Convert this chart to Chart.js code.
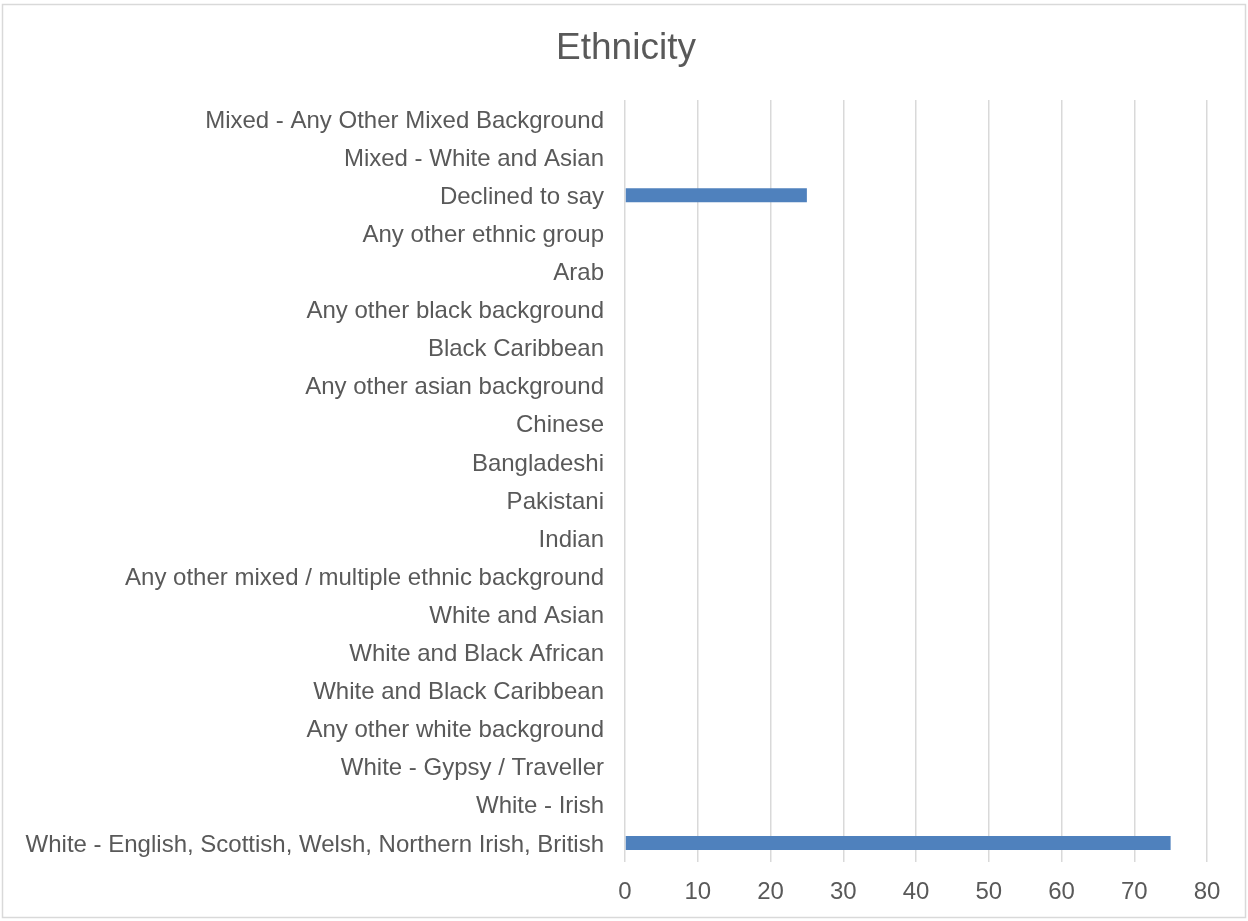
<!DOCTYPE html>
<html>
<head>
<meta charset="utf-8">
<title>Ethnicity</title>
<script src="https://cdn.jsdelivr.net/npm/chart.js@4/dist/chart.umd.min.js"></script>
<style>
  html, body { margin: 0; padding: 0; background: #ffffff; }
  #wrap { position: relative; width: 1248px; height: 921px; }
</style>
</head>
<body>
<div id="wrap"><canvas id="chart" width="1248" height="921"></canvas></div>
<script>
// Categories listed from the bottom of the axis upwards
const categories = [
  "White - English, Scottish, Welsh, Northern Irish, British",
  "White - Irish",
  "White - Gypsy / Traveller",
  "Any other white background",
  "White and Black Caribbean",
  "White and Black African",
  "White and Asian",
  "Any other mixed / multiple ethnic background",
  "Indian",
  "Pakistani",
  "Bangladeshi",
  "Chinese",
  "Any other asian background",
  "Black Caribbean",
  "Any other black background",
  "Arab",
  "Any other ethnic group",
  "Declined to say",
  "Mixed - White and Asian",
  "Mixed - Any Other Mixed Background"
];
const percentages = [75, 0, 0, 0, 0, 0, 0, 0, 0, 0, 0, 0, 0, 0, 0, 0, 0, 25, 0, 0];
const xTicks = [0, 10, 20, 30, 40, 50, 60, 70, 80];
const chartTitle = "Ethnicity";

const FONT = "'Liberation Sans', Arial, Helvetica, sans-serif";
const TEXT = "#595959";
const GRID = "#D9D9D9";

// Frame around the whole chart plus the title centred on the full width
const framePlugin = {
  id: 'frame',
  beforeDraw(chart) {
    const ctx = chart.ctx;
    ctx.save();
    ctx.fillStyle = '#ffffff';
    ctx.fillRect(0, 0, chart.width, chart.height);
    ctx.strokeStyle = GRID;
    ctx.lineWidth = 1.5;
    ctx.strokeRect(2.5, 4.5, 1243, 913);
    ctx.restore();
  },
  afterDraw(chart) {
    const ctx = chart.ctx;
    ctx.save();
    ctx.fillStyle = TEXT;
    ctx.font = "37px " + FONT;
    ctx.textAlign = 'center';
    ctx.textBaseline = 'alphabetic';
    ctx.fillText(chartTitle, chart.width / 2 + 2, 59);
    ctx.restore();
  }
};

new Chart(document.getElementById('chart'), {
  type: 'bar',
  data: {
    labels: categories,
    datasets: [{
      label: chartTitle,
      data: percentages,
      backgroundColor: '#4F81BD',
      borderWidth: 0,
      categoryPercentage: 1,
      barPercentage: 0.37
    }]
  },
  options: {
    indexAxis: 'y',
    responsive: false,
    animation: false,
    layout: { padding: { left: 0, right: 41, top: 100, bottom: 0 } },
    plugins: {
      legend: { display: false },
      tooltip: { enabled: false },
      title: { display: false }
    },
    scales: {
      x: {
        type: 'linear',
        min: 0,
        max: 80,
        afterBuildTicks(scale) {
          scale.ticks = xTicks.map(v => ({ value: v }));
        },
        afterFit(scale) { scale.height = 59; },
        grid: { color: GRID, lineWidth: 1.5, drawTicks: false },
        border: { display: false },
        ticks: {
          color: TEXT,
          font: { family: FONT, size: 24 },
          padding: 16,
          maxRotation: 0
        }
      },
      y: {
        reverse: true,
        afterFit(scale) { scale.width = 625; },
        grid: { display: false, drawTicks: false },
        border: { display: false },
        ticks: {
          color: TEXT,
          font: { family: FONT, size: 24 },
          padding: 21,
          labelOffset: 2,
          autoSkip: false
        }
      }
    }
  },
  plugins: [framePlugin]
});
</script>
</body>
</html>
